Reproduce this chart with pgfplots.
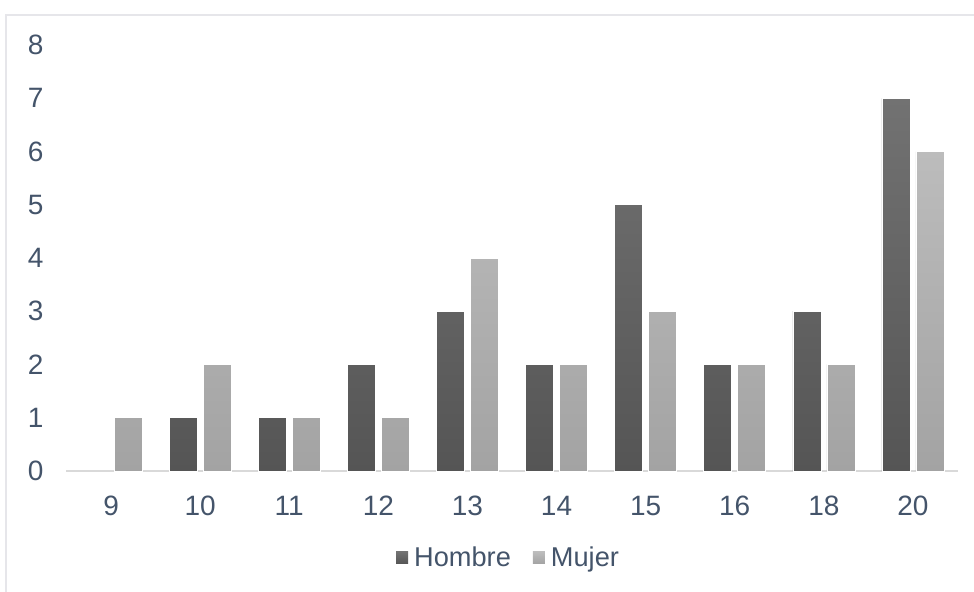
\documentclass[border=0pt]{standalone}
\usepackage{fontspec}
\setmainfont{Liberation Sans}
\usepackage{pgfplots}
\pgfplotsset{compat=1.18}
\definecolor{txt}{HTML}{44546A}
\definecolor{axline}{HTML}{D9D9D9}
\definecolor{frame}{HTML}{E6E6EA}
\definecolor{hTop}{HTML}{727272}
\definecolor{hBot}{HTML}{555555}
\definecolor{mTop}{HTML}{BCBCBC}
\definecolor{mBot}{HTML}{A3A3A3}
\begin{document}
\begin{tikzpicture}[x=1pt,y=1pt]
\useasboundingbox (0,0) rectangle (487,296);
\draw[frame,line width=0.8pt] (3,0) -- (3,288.5) -- (487,288.5);
\begin{axis}[
  at={(33.25pt,60.5pt)}, anchor=south west,
  scale only axis, width=445.5pt, height=213pt,
  xmin=-0.5, xmax=9.5, ymin=0, ymax=8,
  axis y line*=left,
  y axis line style={draw=none},
  axis x line*=bottom,
  x axis line style={axline, line width=0.8pt, -},
  xtick={0,1,2,3,4,5,6,7,8,9},
  xticklabels={9,10,11,12,13,14,15,16,18,20},
  ytick={0,1,2,3,4,5,6,7,8},
  major tick length=0pt,
  /pgf/number format/assume math mode=true,
  ticklabel style={font=\fontsize{14pt}{16pt}\selectfont, text=txt},
  xticklabel style={anchor=base, yshift=-22.5pt},
  yticklabel style={anchor=east, xshift=-8pt},
  ybar, bar width=14pt,
  legend style={draw=none, fill=none, at={(axis description cs:0.4984,-0.204)}, anchor=center,
    legend columns=2, font=\fontsize{13.6pt}{16pt}\selectfont, text=txt,
    nodes={inner xsep=3pt},
    /tikz/every even column/.append style={column sep=8pt}},
  legend image code/.code={\path[#1,draw=none] (0pt,-3pt) rectangle (6pt,3pt);},
  clip=false,
]
\addplot[bar shift=-8.5pt, draw=white, line width=0.3pt, top color=hTop, bottom color=hBot]
  coordinates {(1,1) (2,1) (3,2) (4,3) (5,2) (6,5) (7,2) (8,3) (9,7)};
\addplot[bar shift=8.5pt, draw=white, line width=0.3pt, top color=mTop, bottom color=mBot]
  coordinates {(0,1) (1,2) (2,1) (3,1) (4,4) (5,2) (6,3) (7,2) (8,2) (9,6)};
\legend{Hombre, Mujer}
\end{axis}
\end{tikzpicture}
\end{document}
